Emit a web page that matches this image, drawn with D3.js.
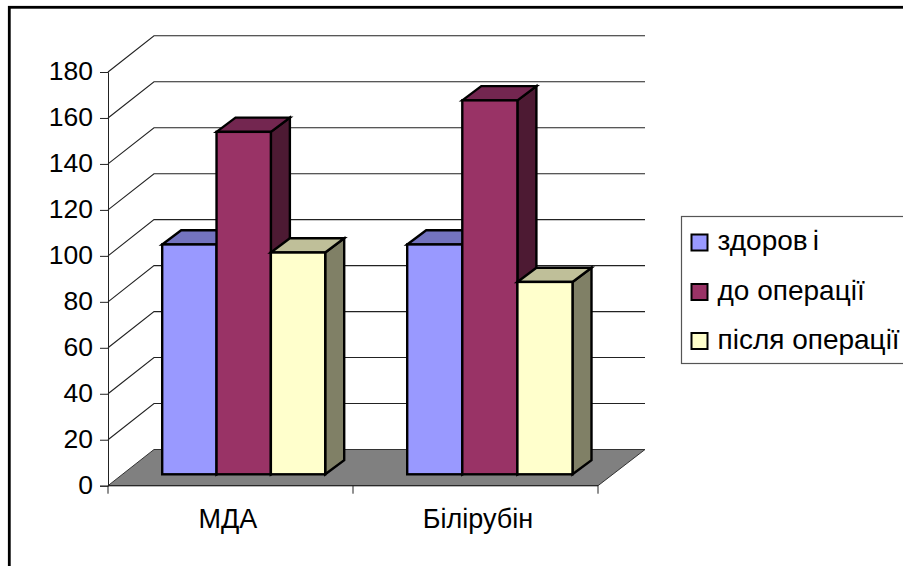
<!DOCTYPE html>
<html>
<head>
<meta charset="utf-8">
<style>
html,body{margin:0;padding:0;background:#fff;overflow:hidden}
svg{display:block}
text{font-family:"Liberation Sans",Arial,sans-serif;fill:#000}
</style>
<script src="https://cdn.jsdelivr.net/npm/d3@7"></script>
</head>
<body>
<svg id="chart" width="903" height="566"></svg>
<script>
// Chart data
const categories = ["МДА", "Білірубін"];
const seriesNames = ["здорові", "до операції", "після операції"];
const healthy = [100, 100];
const beforeSurgery = [149, 162.7];
const afterSurgery = [96.5, 83.7];
const tickValues = [0, 20, 40, 60, 80, 100, 120, 140, 160, 180];
const fills = ["#9999ff", "#993366", "#ffffcc"];
const topFills = ["#7373bf", "#732650", "#bfbf99"];
const sideFills = ["#4d4d80", "#4d1a33", "#808066"];

const svg = d3.select("#chart");
const allSeries = [healthy, beforeSurgery, afterSurgery];

// Oblique projection: the plot box recedes up and to the right
const wallDx = 46, wallDy = -36.2;
const x = d3.scaleBand().domain(categories).range([108, 598]);
const y = d3.scaleLinear().domain([0, 180]).range([485.7, 72]);
const unit = y(0) - y(1);

// Bars sit on the floor, part of the way into the depth of the box
const barBase = 474.3, barDx = 19, barDy = -14.2, groupInset = 54.2;
const groupWidths = [163, 165.3];
const labelShift = [-2.5, 2.5];

const outline = pts => "M" + pts.map(p => p.join(",")).join("L") + "Z";

// Chart area frame, running off the right and bottom edges
svg.append("rect").attr("x", 9.3).attr("y", 7.3).attr("width", 1000).attr("height", 700)
  .attr("fill", "#fff").attr("stroke", "#000").attr("stroke-width", 2.8);

// Gridlines: receding segment along the side wall, then along the back wall
svg.append("g").selectAll("path").data(tickValues.filter(d => d > 0)).join("path")
  .attr("d", d => d3.line()([[x.range()[0], y(d)], [x.range()[0] + wallDx, y(d) + wallDy], [x.range()[1] + wallDx + 1, y(d) + wallDy]]))
  .attr("fill", "none").attr("stroke", "#222").attr("stroke-width", 1.1);

// Floor
svg.append("path")
  .attr("d", outline([
    [x.range()[0], y(0)], [x.range()[0] + wallDx, y(0) + wallDy],
    [x.range()[1] + wallDx + 1, y(0) + wallDy], [x.range()[1], y(0)]
  ]))
  .attr("fill", "#808080").attr("stroke", "#333").attr("stroke-width", 1);

// Value axis
const yAxis = d3.axisLeft(y).tickValues(tickValues).tickSize(8).tickPadding(7);
const yG = svg.append("g").attr("transform", "translate(108,0)").call(yAxis);
yG.select(".domain").attr("stroke", "#222");
yG.selectAll("line").attr("stroke", "#222");
yG.selectAll("text").style("font-size", "26.5px").attr("dy", "0.3em");

// Category axis: ticks mark the band edges, labels sit near band centres
svg.append("line").attr("x1", 108).attr("x2", 598).attr("y1", y(0)).attr("y2", y(0))
  .attr("stroke", "#222");
const edges = [...categories.map(c => x(c)), x.range()[1]];
svg.append("g").selectAll("line").data(edges).join("line")
  .attr("x1", d => d).attr("x2", d => d).attr("y1", y(0)).attr("y2", y(0) + 8)
  .attr("stroke", "#222");
svg.append("g").selectAll("text").data(categories).join("text")
  .attr("x", (d, i) => x(d) + x.bandwidth() / 2 + labelShift[i])
  .attr("y", 527.5).attr("text-anchor", "middle").style("font-size", "27px")
  .text(d => d);

// Bars, drawn left to right so each one overlaps the previous side face
categories.forEach((cat, ci) => {
  const inner = d3.scaleBand().domain(d3.range(seriesNames.length)).range([0, groupWidths[ci]]);
  const g = svg.append("g").attr("stroke", "#000").attr("stroke-width", 2.4).attr("stroke-linejoin", "miter");
  allSeries.forEach((values, si) => {
    const x0 = x(cat) + groupInset + inner(si);
    const x1 = x0 + inner.bandwidth();
    const top = barBase - values[ci] * unit;
    g.append("path").attr("fill", sideFills[si])
      .attr("d", outline([[x1, top], [x1 + barDx, top + barDy], [x1 + barDx, barBase + barDy], [x1, barBase]]));
    g.append("path").attr("fill", topFills[si])
      .attr("d", outline([[x0, top], [x0 + barDx, top + barDy], [x1 + barDx, top + barDy], [x1, top]]));
    g.append("rect").attr("fill", fills[si])
      .attr("x", x0).attr("y", top).attr("width", x1 - x0).attr("height", barBase - top);
  });
});

// Legend
const legend = svg.append("g");
legend.append("rect").attr("x", 681.5).attr("y", 216.5).attr("width", 225).attr("height", 147)
  .attr("fill", "#fff").attr("stroke", "#555").attr("stroke-width", 1.2);
const rowY = [242.5, 292, 341];
const rows = legend.selectAll("g").data(seriesNames).join("g")
  .attr("transform", (d, i) => `translate(0,${rowY[i]})`);
rows.append("rect").attr("x", 691.5).attr("y", -8).attr("width", 16).attr("height", 16)
  .attr("fill", (d, i) => fills[i]).attr("stroke", "#000").attr("stroke-width", 2);
rows.append("text").attr("x", 717.5).attr("y", 7.5).style("font-size", "28px")
  .each(function (d) {
    const t = d3.select(this);
    if (d === "здорові") {
      t.append("tspan").text("здоров");
      t.append("tspan").attr("dx", 5).text("і");
    } else {
      t.text(d);
    }
  });
</script>
</body>
</html>
